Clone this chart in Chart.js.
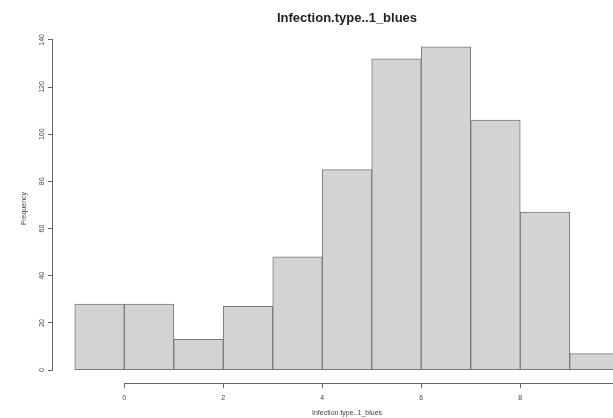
<!DOCTYPE html>
<html>
<head>
<meta charset="utf-8">
<script src="https://cdn.jsdelivr.net/npm/chart.js@4/dist/chart.umd.min.js"></script>
<style>
  html, body { margin: 0; padding: 0; overflow: hidden; background: #fff; }
</style>
</head>
<body>
<canvas id="hist" width="680" height="418"></canvas>
<script>
// histogram bins (left edges), bin width and counts
const binStarts = [-1, 0, 1, 2, 3, 4, 5, 6, 7, 8, 9];
const binWidth = 1;
const counts = [28, 28, 13, 27, 48, 85, 132, 137, 106, 67, 7];
const xTicks = [0, 2, 4, 6, 8, 10];
const yTicks = [0, 20, 40, 60, 80, 100, 120, 140];

const titleText = 'Infection.type..1_blues';
const xLabel = 'Infection.type..1_blues';
const yLabel = 'Frequency';

// R-style axes: the axis line only runs from the first to the last tick
const rAxisLines = {
    id: 'rAxisLines',
    afterDraw(chart) {
        const ctx = chart.ctx;
        const x = chart.scales.x;
        const y = chart.scales.y;
        ctx.save();
        ctx.strokeStyle = '#666';
        ctx.lineWidth = 1;
        ctx.beginPath();
        ctx.moveTo(x.getPixelForValue(xTicks[0]), x.top + 0.5);
        ctx.lineTo(x.getPixelForValue(xTicks[xTicks.length - 1]), x.top + 0.5);
        ctx.moveTo(y.right - 0.5, y.getPixelForValue(yTicks[0]));
        ctx.lineTo(y.right - 0.5, y.getPixelForValue(yTicks[yTicks.length - 1]));
        ctx.stroke();
        ctx.restore();
    }
};

const xMin = binStarts[0];
const xMax = binStarts[binStarts.length - 1] + binWidth;
const yMax = Math.max(...counts);

new Chart(document.getElementById('hist'), {
    type: 'bar',
    data: {
        datasets: [{
            data: binStarts.map((s, i) => ({ x: s + binWidth / 2, y: counts[i] })),
            backgroundColor: '#d3d3d3',
            borderColor: '#7a7a7a',
            borderWidth: 1,
            borderSkipped: false,
            barPercentage: 1,
            categoryPercentage: 1
        }]
    },
    options: {
        responsive: false,
        animation: false,
        layout: { padding: { left: 0, right: 39, top: 0, bottom: 0 } },
        plugins: {
            legend: { display: false },
            tooltip: { enabled: false },
            title: {
                display: true,
                text: titleText,
                fullSize: false,
                color: '#222',
                font: { family: 'Liberation Sans, Arial', size: 13, weight: 'bold' },
                padding: { top: 10.5, bottom: 7.9 }
            }
        },
        scales: {
            x: {
                type: 'linear',
                offset: false,
                min: xMin - (xMax - xMin) * 0.04,
                max: xMax + (xMax - xMin) * 0.04,
                afterFit(scale) { scale.height = 35; },
                afterBuildTicks(scale) { scale.ticks = xTicks.map(v => ({ value: v })); },
                border: { display: false },
                grid: { display: true, offset: false, drawOnChartArea: false, drawTicks: true, tickLength: 5, color: '#666' },
                ticks: {
                    autoSkip: false,
                    maxRotation: 0,
                    padding: 6,
                    color: '#444',
                    font: { family: 'Liberation Sans, Arial', size: 7 }
                },
                title: {
                    display: true,
                    text: xLabel,
                    color: '#444',
                    font: { family: 'Liberation Sans, Arial', size: 7 },
                    padding: { top: 0, bottom: 1 }
                }
            },
            y: {
                min: -yMax * 0.04,
                max: yMax * 1.04,
                afterFit(scale) { scale.width = 53; },
                afterBuildTicks(scale) { scale.ticks = yTicks.map(v => ({ value: v })); },
                border: { display: false },
                grid: { display: true, offset: false, drawOnChartArea: false, drawTicks: true, tickLength: 5, color: '#666' },
                ticks: {
                    autoSkip: false,
                    minRotation: 90,
                    maxRotation: 90,
                    crossAlign: 'center',
                    padding: 0,
                    color: '#444',
                    font: { family: 'Liberation Sans, Arial', size: 7 }
                },
                title: {
                    display: true,
                    text: yLabel,
                    color: '#444',
                    font: { family: 'Liberation Sans, Arial', size: 7 },
                    padding: { top: 20, bottom: 0 }
                }
            }
        }
    },
    plugins: [rAxisLines]
});
</script>
</body>
</html>
